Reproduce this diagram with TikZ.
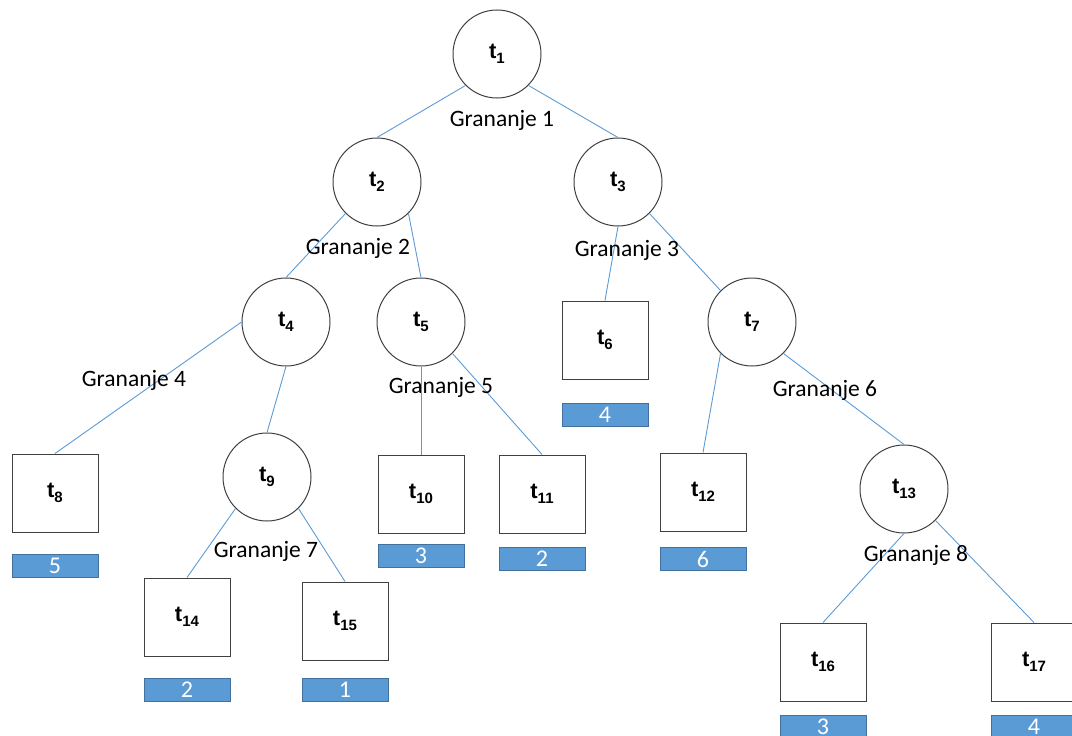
\documentclass[tikz,border=0pt]{standalone}
\usepackage{fontspec}
\setmainfont{Carlito}
\newfontfamily\labfont{Liberation Sans}
\definecolor{linkblue}{HTML}{5B9BD5}
\definecolor{barblue}{HTML}{5B9BD5}
\definecolor{barline}{HTML}{41719C}
\definecolor{rim}{HTML}{404040}
\newcommand{\tlab}[1]{{\labfont\bfseries t\raisebox{-4.5pt}{\fontsize{15}{15}\selectfont #1}}}

\begin{document}
\begin{tikzpicture}[
        x=1pt, y=-1pt,
        split/.style={circle, draw=rim, line width=1pt, minimum size=88pt, inner sep=0pt, font=\fontsize{22}{22}\selectfont},
        leaf/.style={rectangle, draw=rim, line width=1pt, minimum width=86pt, minimum height=78pt, inner sep=0pt, font=\fontsize{22}{22}\selectfont},
        score/.style={rectangle, draw=barline, fill=barblue, minimum width=86pt, minimum height=23pt, inner sep=0pt, text=white, font=\fontsize{24}{24}\selectfont},
        rule/.style={inner sep=0pt, font=\fontsize{23.5}{23.5}\selectfont},
        link/.style={draw=linkblue, line width=0.9pt}
    ]
    \useasboundingbox (0,0) rectangle (1072,736);

    % inner nodes
    \node[split] (t1) at (497,54) {\tlab{1}};
    \node[split] (t2) at (377,182) {\tlab{2}};
    \node[split] (t3) at (618,182) {\tlab{3}};
    \node[split] (t4) at (286,322) {\tlab{4}};
    \node[split] (t5) at (421,322) {\tlab{5}};
    \node[split] (t7) at (752,322) {\tlab{7}};
    \node[split] (t9) at (267,477) {\tlab{9}};
    \node[split] (t13) at (904,489) {\tlab{13}};

    % Loop through to create leaves and their values
    \foreach \i/\x/\y/\v/\vy in {6/605/340/4/415, 8/55/493/5/566, 10/421/494/3/556,
            11/542/494/2/559, 12/703/492/6/559, 14/187/617/2/690,
            15/345/621/1/690, 16/823/662/3/727, 17/1034/662/4/727} {
        \node[leaf] (t\i) at (\x,\y) {\tlab{\i}};
        \node[score] (v\i) at (\x,\vy) {\v};
    }

    % branches
    \foreach \a/\b in {t1.225/t2.north, t1.-45/t3.north, t2.225/t4.north, t2.-45/t5.north,
            t3.south/t6.north, t3.-45/t7.135, t4.west/t8.north, t4.south/t9.north,
            t5.south/t10.north, t5.-45/t11.north, t7.225/t12.north, t7.-45/t13.north,
            t9.225/t14.north, t9.-45/t15.north, t13.south/t16.north, t13.-45/t17.north} {
        \draw[link] (\a) -- (\b);
    }

    % split labels
    \node[rule] (g1) at (502,120) {Grananje 1};
    \node[rule] (g2) at (358,248) {Grananje 2};
    \node[rule] (g3) at (627,250) {Grananje 3};
    \node[rule] (g4) at (134,380) {Grananje 4};
    \node[rule] (g5) at (441,387) {Grananje 5};
    \node[rule] (g6) at (825,390) {Grananje 6};
    \node[rule] (g7) at (266,551) {Grananje 7};
    \node[rule] (g8) at (916,555) {Grananje 8};
\end{tikzpicture}
\end{document}
